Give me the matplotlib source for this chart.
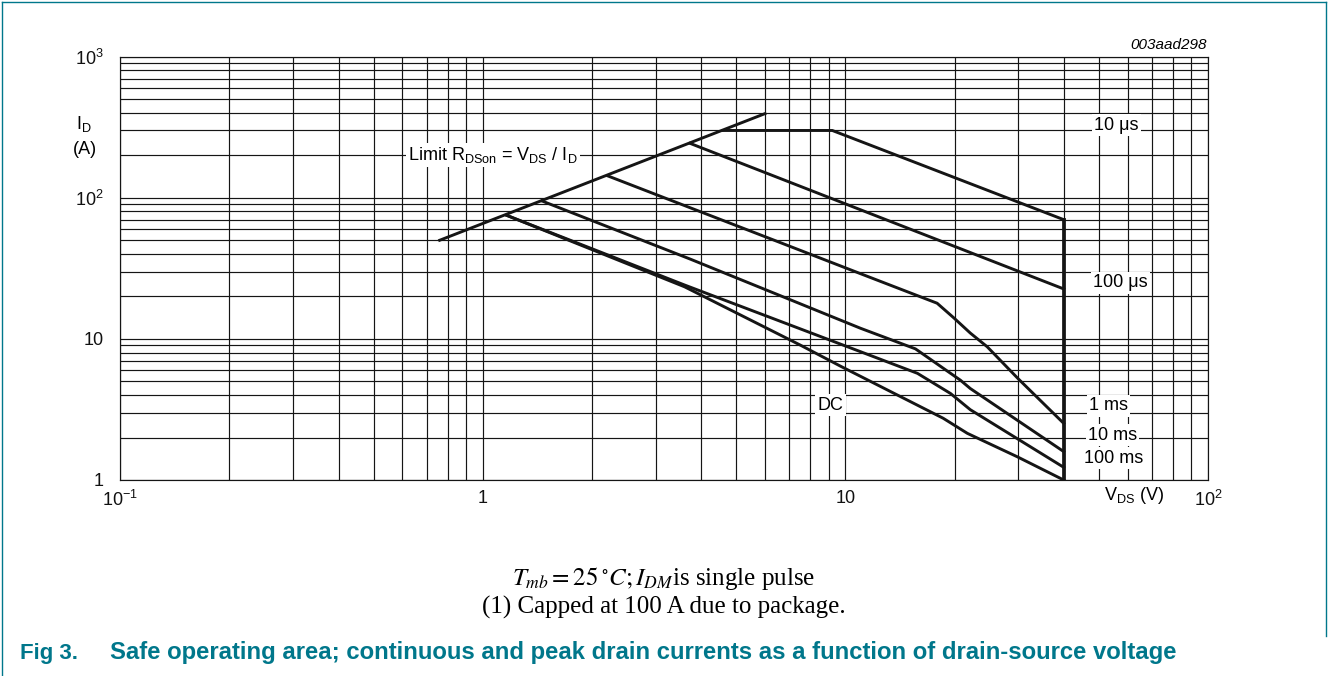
import matplotlib

matplotlib.use("Agg")

import matplotlib.pyplot as plt
from matplotlib.lines import Line2D
from matplotlib.ticker import FixedLocator, NullFormatter

plt.rcParams["font.family"] = ["Liberation Sans", "DejaVu Sans"]
plt.rcParams["mathtext.fontset"] = "custom"
plt.rcParams["mathtext.rm"] = "Liberation Sans"
plt.rcParams["mathtext.it"] = "Liberation Sans:italic"
plt.rcParams["mathtext.bf"] = "Liberation Sans:bold"

# --- data (V_DS in V, I_D in A) ---
limit_v = [0.76, 6.0]
limit_i = [50.0, 395.0]

us10_v = [4.6, 9.2, 40.0]
us10_i = [300.0, 300.0, 70.0]

us100_v = [3.73, 40.0]
us100_i = [243.0, 22.6]

ms1_v = [2.21, 6.34, 11.0, 17.9, 19.9, 22.1, 24.6, 30.0, 40.0]
ms1_i = [143.0, 50.2, 29.0, 17.9, 14.1, 11.0, 8.8, 5.2, 2.52]

ms10_v = [1.455, 3.73, 11.0, 15.6, 20.75, 22.1, 40.0]
ms10_i = [95.0, 36.8, 11.9, 8.5, 5.1, 4.45, 1.59]

ms100_v = [1.165, 3.6, 11.0, 15.8, 19.5, 22.1, 40.0]
ms100_i = [75.0, 24.1, 8.12, 5.7, 4.1, 3.15, 1.23]

dc_v = [1.165, 3.6, 7.5, 9.7, 18.6, 21.7, 29.8, 40.0]
dc_i = [75.0, 23.4, 9.05, 6.4, 2.74, 2.14, 1.46, 1.0]

cap_v = [40.0, 40.0]
cap_i = [1.0, 70.0]

x_ticks = [0.1, 1, 10, 100]
x_tick_labels = ["$10^{-1}$", "1", "10", "$10^{2}$"]
y_ticks = [1, 10, 100, 1000]
y_tick_labels = ["1", "10", "$10^{2}$", "$10^{3}$"]

curve_labels = ["10 μs", "100 μs", "1 ms", "10 ms", "100 ms", "DC"]
curve_label_pos = [(55.9, 328), (57.4, 24.9), (53.2, 3.35), (54.5, 2.08), (55.0, 1.43), (9.09, 3.40)]

W, H = 1329, 676
INK = "#151515"
TEAL = "#00778b"


def fx(px):
    return px / W


def fy(py):
    return 1 - py / H


fig = plt.figure(figsize=(W / 100, H / 100), dpi=100)
ax = fig.add_axes([fx(120.3), fy(480), (1208 - 120.3) / W, (480 - 56.7) / H])

ax.set_xscale("log")
ax.set_yscale("log")
ax.set_xlim(0.1, 100)
ax.set_ylim(1, 1000)

minor = [m * 10.0 ** e for e in range(-1, 3) for m in range(2, 10)]
ax.xaxis.set_major_locator(FixedLocator(x_ticks))
ax.yaxis.set_major_locator(FixedLocator(y_ticks))
ax.xaxis.set_minor_locator(FixedLocator(minor))
ax.yaxis.set_minor_locator(FixedLocator(minor))
ax.xaxis.set_minor_formatter(NullFormatter())
ax.yaxis.set_minor_formatter(NullFormatter())
ax.set_xticklabels(x_tick_labels)
ax.set_yticklabels(y_tick_labels)
ax.tick_params(which="both", length=0, labelsize=13, colors="#111111")
ax.tick_params(axis="x", pad=7)
ax.tick_params(axis="y", pad=12)

ax.grid(which="both", color=INK, linewidth=0.85)
ax.set_axisbelow(True)
for spine in ax.spines.values():
    spine.set_color(INK)
    spine.set_linewidth(0.85)

curve_kw = dict(color=INK, linewidth=2.1, solid_joinstyle="round", zorder=3)
ax.plot(limit_v, limit_i, **curve_kw)
ax.plot(us10_v, us10_i, **curve_kw)
ax.plot(us100_v, us100_i, **curve_kw)
ax.plot(ms1_v, ms1_i, **curve_kw)
ax.plot(ms10_v, ms10_i, **curve_kw)
ax.plot(ms100_v, ms100_i, **curve_kw)
ax.plot(dc_v, dc_i, **curve_kw)
ax.plot(cap_v, cap_i, color=INK, linewidth=2.7, zorder=3)

box = dict(facecolor="white", edgecolor="none", pad=1.5)
for label, (lx, ly) in zip(curve_labels, curve_label_pos):
    ax.text(lx, ly, label, fontsize=13, ha="center", va="center", bbox=box, zorder=4)

ax.text(0.622, 201, r"Limit R$_{\mathrm{DSon}}$ = V$_{\mathrm{DS}}$ / I$_{\mathrm{D}}$",
        fontsize=13, ha="left", va="center", bbox=box, zorder=4)

# axis titles, placed like the datasheet
fig.text(fx(84), fy(124), r"I$_{\mathrm{D}}$", fontsize=13, ha="center", va="center")
fig.text(fx(85), fy(150), "(A)", fontsize=13, ha="center", va="center")
fig.text(fx(1134), fy(496), r"V$_{\mathrm{DS}}$ (V)", fontsize=13, ha="center", va="center")
fig.text(fx(1207), fy(45), "003aad298", fontsize=11, style="italic", ha="right", va="center")

# notes under the chart
fig.text(fx(664), fy(578), r"$T_{mb} = 25\,^{\circ}C;I_{DM}$is single pulse",
         fontsize=18, family="Liberation Serif", math_fontfamily="stix", ha="center", va="center")
fig.text(fx(664), fy(607), "(1) Capped at 100 A due to package.",
         fontsize=18, family="Liberation Serif", ha="center", va="center")

fig.text(fx(20), fy(653), "Fig 3.", fontsize=16, weight="bold", color=TEAL, ha="left", va="center")
fig.text(fx(110), fy(653),
         "Safe operating area; continuous and peak drain currents as a function of drain-source voltage",
         fontsize=17.2, weight="bold", color=TEAL, ha="left", va="center")

# frame around the figure
for xs, ys in [([2, 2], [2, 676]), ([2, 1326], [2, 2]), ([1326, 1326], [2, 636])]:
    fig.add_artist(Line2D([fx(x) for x in xs], [fy(y) for y in ys], color=TEAL, linewidth=1.0))

fig.savefig("out.png", dpi=100)
